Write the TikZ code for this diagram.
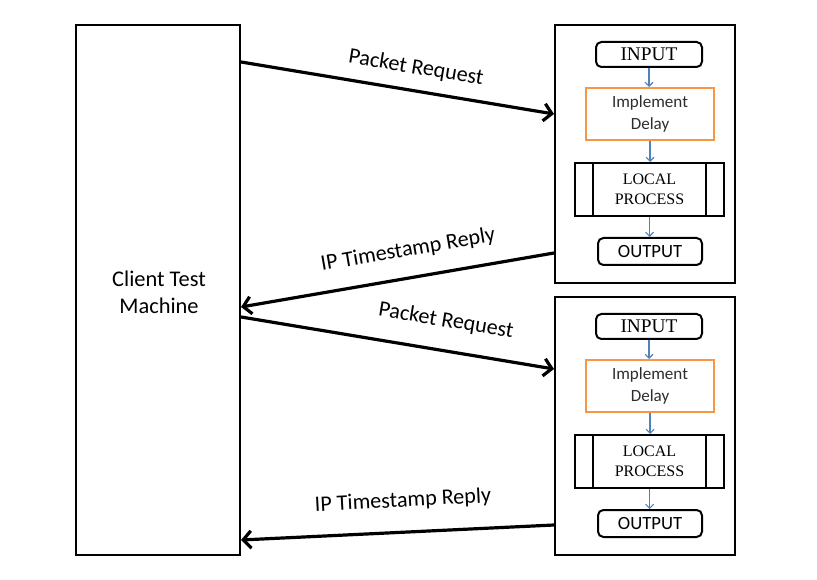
\documentclass[tikz,border=0pt]{standalone}
\usepackage{fontspec}
\setmainfont{Carlito}
\newfontfamily\serifbox{Liberation Serif}
\usetikzlibrary{arrows.meta,calc}
\definecolor{flowblue}{RGB}{79,129,189}
\definecolor{delayorange}{RGB}{247,150,70}
\definecolor{textgray}{RGB}{45,45,45}
\tikzset{
  outerbox/.style={draw=black, line width=1.5pt, inner sep=0pt},
  roundbox/.style={draw=black, line width=1.5pt, rounded corners=4pt, inner sep=0pt, align=center},
  delaybox/.style={draw=delayorange, line width=1.5pt, inner sep=0pt, align=center, text=textgray, font=\fontsize{12.8}{17}\selectfont},
  procbox/.style={draw=black, line width=1.5pt, inner sep=0pt, align=center, font=\serifbox\fontsize{12}{15}\selectfont},
  flow/.style={draw=flowblue, line width=0.8pt, -{Straight Barb[length=3pt,width=6pt]}},
  msg/.style={draw=black, line width=2.4pt, -{Straight Barb[length=6pt,width=13pt,line width=2.4pt]}},
  msglabel/.style={font=\fontsize{16.6}{19}\selectfont, inner sep=0pt}
}
\begin{document}
\begin{tikzpicture}[x=0.75pt,y=-0.75pt]
\useasboundingbox (0,0) rectangle (817,580);
% client
\node[outerbox, minimum width=123pt, minimum height=397.5pt] (client) at (158,290) {};
\node[align=center, font=\fontsize{16.8}{20}\selectfont] (clienttext) at (159,292) {Client Test\\Machine};
% two router boxes
\foreach \i/\dy in {1/0,2/272}{
  \node[outerbox, minimum width=135pt, minimum height=193.5pt] (b\i) at (645,154+\dy) {};
  \node[roundbox, minimum width=79.5pt, minimum height=18.75pt, font=\serifbox\fontsize{14.5}{15}\selectfont] (in\i) at (649,54.5+\dy) {INPUT};
  \node[delaybox, minimum width=96pt, minimum height=39pt] (delay\i) at (650,114+\dy) {Implement\\Delay};
  \node[procbox, minimum width=111.75pt, minimum height=39.75pt] (proc\i) at (649.5,189.5+\dy) {LOCAL\\PROCESS};
  \draw[line width=1.5pt] ($(proc\i.north west)+(19,0)$) -- ($(proc\i.south west)+(19,0)$);
  \draw[line width=1.5pt] ($(proc\i.north east)+(-19,0)$) -- ($(proc\i.south east)+(-19,0)$);
  \node[roundbox, minimum width=78pt, minimum height=20.25pt, font=\fontsize{14}{16}\selectfont] (out\i) at (650,251.5+\dy) {OUTPUT};
  \draw[flow] (in\i.south) -- (in\i.south |- delay\i.north);
  \draw[flow] (delay\i.south) -- (delay\i.south |- proc\i.north);
  \draw[flow] (proc\i.south) -- (proc\i.south |- out\i.north);
}
% messages
\draw[msg] ([yshift=-28.5pt]client.north east) -- ([yshift=-67.5pt]b1.north west);
\draw[msg] ([yshift=-171.75pt]b1.north west) -- ([yshift=-212.25pt]client.north east);
\draw[msg] ([yshift=-219.75pt]client.north east) -- ([yshift=-54.75pt]b2.north west);
\draw[msg] ([yshift=-171.75pt]b2.north west) -- ([yshift=-387pt]client.north east);
% labels
\node[msglabel, rotate=-9.5] (l1) at (416,68) {Packet Request};
\node[msglabel, rotate=9.8] (l2) at (408,250) {IP Timestamp Reply};
\node[msglabel, rotate=-9.5] (l3) at (446,321) {Packet Request};
\node[msglabel, rotate=3] (l4) at (403,501) {IP Timestamp Reply};
\end{tikzpicture}
\end{document}
